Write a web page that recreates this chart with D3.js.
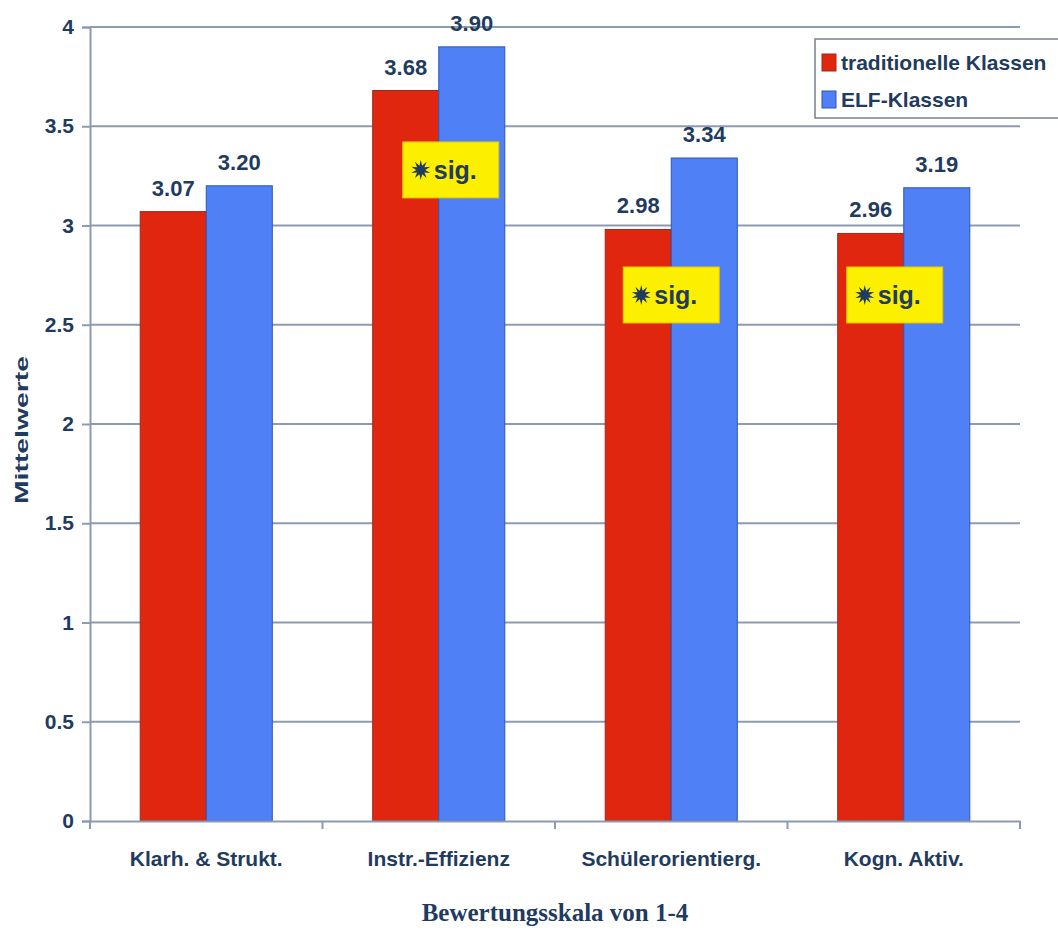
<!DOCTYPE html>
<html>
<head>
<meta charset="utf-8">
<script src="https://cdn.jsdelivr.net/npm/d3@7/dist/d3.min.js"></script>
<style>
  html, body { margin: 0; padding: 0; background: #fff; }
  svg { display: block; }
  text { font-family: "Liberation Sans", Arial, sans-serif; font-weight: bold; fill: #1f3b5e; }
  text.serif { font-family: "Liberation Serif", "Times New Roman", serif; }
</style>
</head>
<body>
<svg id="chart" width="1058" height="933"></svg>
<script>
// Mean ratings per teaching-quality scale
const categories = ["Klarh. & Strukt.", "Instr.-Effizienz", "Schülerorientierg.", "Kogn. Aktiv."];
const seriesNames = ["traditionelle Klassen", "ELF-Klassen"];
const traditionalValues = [3.07, 3.68, 2.98, 2.96];
const elfValues = [3.20, 3.90, 3.34, 3.19];
const significant = [false, true, true, true];
const yTicks = [0, 0.5, 1, 1.5, 2, 2.5, 3, 3.5, 4];

const seriesValues = [traditionalValues, elfValues];
const colors = ["#e0260e", "#4f80f6"];
const strokes = ["#9c2b1c", "#2f55b5"];

const svg = d3.select("#chart");
const plot = { left: 90, right: 1020, top: 27, bottom: 821 };

const y = d3.scaleLinear().domain([0, 4]).range([plot.bottom, plot.top]);
const x0 = d3.scaleBand().domain(categories).range([plot.left, plot.right]).padding(0);
const x1 = d3.scaleBand().domain(seriesNames).range([0, x0.bandwidth()])
  .paddingInner(0).paddingOuter(0.76);

// horizontal gridlines
svg.append("g")
  .selectAll("line")
  .data(yTicks.filter(d => d > 0))
  .join("line")
  .attr("x1", plot.left).attr("x2", plot.right)
  .attr("y1", d => y(d)).attr("y2", d => y(d))
  .attr("stroke", "#8d9bb0").attr("stroke-width", 2);

// bars
const groups = svg.append("g")
  .selectAll("g")
  .data(categories)
  .join("g")
  .attr("transform", d => `translate(${x0(d)},0)`);

groups.selectAll("rect")
  .data((c, i) => seriesNames.map((s, k) => ({ s, k, v: seriesValues[k][i] })))
  .join("rect")
  .attr("x", d => x1(d.s))
  .attr("width", x1.bandwidth())
  .attr("y", d => y(d.v))
  .attr("height", d => y(0) - y(d.v))
  .attr("fill", d => colors[d.k])
  .attr("stroke", d => strokes[d.k])
  .attr("stroke-width", 1);

// value labels
groups.selectAll("text.val")
  .data((c, i) => seriesNames.map((s, k) => ({ s, k, v: seriesValues[k][i] })))
  .join("text")
  .attr("class", "val")
  .attr("x", d => x1(d.s) + x1.bandwidth() / 2)
  .attr("y", d => y(d.v) - 16)
  .attr("text-anchor", "middle")
  .attr("font-size", 22)
  .text(d => d.v.toFixed(2));

// y axis
const yAxis = d3.axisLeft(y).tickValues(yTicks).tickSize(8).tickPadding(8)
  .tickFormat(d => String(d));
const gy = svg.append("g").attr("transform", `translate(${plot.left},0)`).call(yAxis);
gy.select(".domain").attr("stroke", "#8d9bb0").attr("stroke-width", 2);
gy.selectAll(".tick line").attr("stroke", "#8d9bb0").attr("stroke-width", 2);
gy.selectAll(".tick text").attr("font-size", 21).attr("font-family", null).attr("fill", "#1f3b5e");

// x axis
const xAxis = d3.axisBottom(x0).tickSize(0).tickPadding(30);
const gx = svg.append("g").attr("transform", `translate(0,${plot.bottom})`).call(xAxis);
gx.select(".domain").attr("stroke", "#8d9bb0").attr("stroke-width", 2);
gx.selectAll(".tick text").attr("font-size", 21).attr("font-family", null).attr("fill", "#1f3b5e");
// tick marks between categories
svg.append("g")
  .selectAll("line")
  .data(categories.map(c => x0(c)).concat([plot.right]))
  .join("line")
  .attr("x1", d => d).attr("x2", d => d)
  .attr("y1", plot.bottom).attr("y2", plot.bottom + 8)
  .attr("stroke", "#8d9bb0").attr("stroke-width", 2);

// axis titles
svg.append("text")
  .attr("transform", `translate(28,${(plot.top + plot.bottom) / 2 + 6}) rotate(-90)`)
  .attr("text-anchor", "middle")
  .attr("font-size", 18)
  .attr("textLength", 148)
  .attr("lengthAdjust", "spacingAndGlyphs")
  .text("Mittelwerte");

svg.append("text")
  .attr("class", "serif")
  .attr("x", 555).attr("y", 921)
  .attr("text-anchor", "middle")
  .attr("font-size", 25)
  .text("Bewertungsskala von 1-4");

// significance badges
const badgeLevel = [null, 3.28, 2.65, 2.65];
const badgeShift = [0, 12, 0, -9];
function starPath(cx, cy, rOut, rIn, n) {
  const pts = [];
  for (let i = 0; i < 2 * n; i++) {
    const r = i % 2 === 0 ? rOut : rIn;
    const a = Math.PI * i / n - Math.PI / 2;
    pts.push([cx + r * Math.cos(a), cy + r * Math.sin(a)]);
  }
  return "M" + pts.map(p => p.join(",")).join("L") + "Z";
}
categories.forEach((c, i) => {
  if (!significant[i]) return;
  const cx = x0(c) + x0.bandwidth() / 2 + badgeShift[i];
  const cy = y(badgeLevel[i]);
  const g = svg.append("g");
  g.append("rect")
    .attr("x", cx - 48).attr("y", cy - 28)
    .attr("width", 96).attr("height", 56)
    .attr("fill", "#fcf000").attr("stroke", "#e8c400").attr("stroke-width", 1);
  g.append("path")
    .attr("d", starPath(cx - 30, cy, 10, 4.5, 10))
    .attr("fill", "#1f3b5e");
  g.append("text")
    .attr("x", cx - 17).attr("y", cy + 9)
    .attr("font-size", 25)
    .text("sig.");
});

// legend
const legend = svg.append("g");
legend.append("rect")
  .attr("x", 815).attr("y", 39).attr("width", 260).attr("height", 79)
  .attr("fill", "#fff").attr("stroke", "#7a7f88").attr("stroke-width", 1.5);
seriesNames.forEach((s, k) => {
  legend.append("rect")
    .attr("x", 822).attr("y", 54 + k * 37).attr("width", 14).attr("height", 17)
    .attr("fill", colors[k]).attr("stroke", strokes[k]).attr("stroke-width", 1);
  legend.append("text")
    .attr("x", 841).attr("y", 70 + k * 37)
    .attr("font-size", 21)
    .text(s);
});
</script>
</body>
</html>
